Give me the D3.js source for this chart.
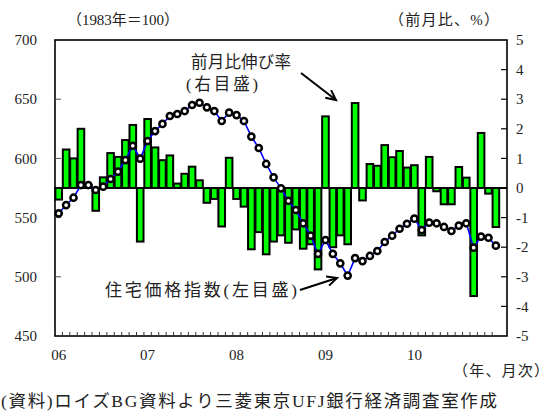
<!DOCTYPE html>
<html><head><meta charset="utf-8">
<script src="https://cdn.jsdelivr.net/npm/d3@7"></script>
<style>body{margin:0;background:#fff} svg{display:block}</style>
</head><body><svg id="c" width="551" height="412"></svg>
<script>
// Year labels and the monthly categories (Jan 2006 – Dec 2010)
const yearLabels = ["06", "07", "08", "09", "10"];
const months = yearLabels.flatMap(y => d3.range(1, 13).map(m => `20${y}-${String(m).padStart(2, "0")}`));

// Month-on-month change, % (right scale, bars)
const momChange = [
  -0.39, 1.30, 1.00, 2.00, 0.10, -0.77, 0.36, 1.18, 1.05, 1.62, 2.13, -1.81,
  2.33, 1.37, 0.94, 1.10, 0.15, 0.48, 0.72, 0.26, -0.50, -0.37, -1.30, 1.02,
  -0.37, -0.63, -2.07, -1.49, -2.24, -1.81, -1.60, -1.85, -1.40, -2.05, -1.90, -2.75,
  2.42, -2.00, -1.60, -1.90, 2.87, -0.42, 0.81, 0.75, 1.45, 1.04, 1.25, 0.69,
  0.77, -1.60, 1.05, -0.11, -0.55, -0.55, 0.71, 0.35, -3.65, 1.86, -0.19, -1.32
];

// House price index, 1983 = 100 (left scale, line)
const priceIndex = [
  553.6, 560.6, 566.8, 577.5, 577.5, 573.3, 576.1, 582.6, 588.8, 598.6, 610.7, 599.8,
  614.7, 623.1, 629.1, 635.8, 637.5, 640.0, 645.1, 647.0, 643.1, 640.0, 631.6, 638.6,
  636.6, 631.6, 618.4, 608.8, 595.3, 584.0, 574.7, 564.2, 556.4, 545.2, 534.7, 519.3,
  531.1, 519.3, 511.4, 501.0, 515.8, 513.3, 517.6, 521.8, 529.4, 534.7, 540.6, 544.8,
  549.1, 539.5, 545.7, 545.2, 542.1, 538.7, 543.2, 545.2, 524.6, 533.9, 533.0, 526.3
];

const leftTicks = [700, 650, 600, 550, 500, 450];
const rightTicks = [5, 4, 3, 2, 1, 0, -1, -2, -3, -4, -5];

const FONT = "'Liberation Serif', 'Noto Sans CJK JP', serif";
const TXT = "#222";

const L = 55, R = 507, T = 40, B = 336;
const svg = d3.select("#c");

const x = d3.scaleBand().domain(months).range([L, L + (R - L) * 60 / 61]).padding(0);
const step = x.step();
const yL = d3.scaleLinear().domain([450, 700]).range([B, T]);
const yR = d3.scaleLinear().domain([-5, 5]).range([B, T]);

const data = months.map((m, i) => ({ m, chg: momChange[i], idx: priceIndex[i] }));

// Bars: month-on-month change
svg.append("g").selectAll("rect").data(data).join("rect")
  .attr("x", d => x(d.m) + 0.4)
  .attr("width", step - 0.8)
  .attr("y", d => yR(Math.max(0, d.chg)))
  .attr("height", d => Math.abs(yR(d.chg) - yR(0)))
  .attr("fill", "#00ff00")
  .attr("stroke", "#000")
  .attr("stroke-width", 2);

// Zero line
svg.append("line")
  .attr("x1", L).attr("x2", R).attr("y1", yR(0)).attr("y2", yR(0))
  .attr("stroke", "#000").attr("stroke-width", 1.8);

// Frame
svg.append("rect").attr("x", L).attr("y", T).attr("width", R - L).attr("height", B - T)
  .attr("fill", "none").attr("stroke", "#000").attr("stroke-width", 1.6);

// Left inner ticks
svg.append("g").selectAll("line").data(leftTicks.filter(v => v > 450 && v < 700)).join("line")
  .attr("x1", L).attr("x2", L + 6).attr("y1", d => yL(d)).attr("y2", d => yL(d))
  .attr("stroke", "#555").attr("stroke-width", 1);

// Right inner ticks
svg.append("g").selectAll("line").data(rightTicks.filter(v => v > -5 && v < 5)).join("line")
  .attr("x1", R - 6).attr("x2", R).attr("y1", d => yR(d)).attr("y2", d => yR(d))
  .attr("stroke", "#000").attr("stroke-width", 1.2);

// Bottom month ticks
svg.append("g").selectAll("line").data(months.slice(1)).join("line")
  .attr("x1", d => x(d)).attr("x2", d => x(d)).attr("y1", B).attr("y2", B - 4)
  .attr("stroke", "#333").attr("stroke-width", 1);

// Index line
svg.append("path").datum(data)
  .attr("d", d3.line().x(d => x(d.m) + step / 2).y(d => yL(d.idx)))
  .attr("fill", "none").attr("stroke", "#0000ff").attr("stroke-width", 1.6);

svg.append("g").selectAll("circle").data(data).join("circle")
  .attr("cx", d => x(d.m) + step / 2).attr("cy", d => yL(d.idx)).attr("r", 3.1)
  .attr("fill", "#fff").attr("stroke", "#000").attr("stroke-width", 2.5);

// Axis labels
svg.append("g").selectAll("text").data(leftTicks).join("text")
  .attr("x", 37).attr("y", d => yL(d)).attr("dy", "0.35em").attr("text-anchor", "end")
  .attr("font-family", FONT).attr("font-size", 15).attr("fill", TXT).text(d => d);

svg.append("g").selectAll("text").data(rightTicks).join("text")
  .attr("x", 516).attr("y", d => yR(d)).attr("dy", "0.35em").attr("text-anchor", "start")
  .attr("font-family", FONT).attr("font-size", 15).attr("fill", TXT).text(d => d);

svg.append("g").selectAll("text").data(yearLabels).join("text")
  .attr("x", (d, i) => x(months[i * 12]) + step / 2).attr("y", 355).attr("dy", "0.35em")
  .attr("text-anchor", "middle").attr("font-family", FONT).attr("font-size", 15)
  .attr("fill", TXT).text(d => d);

function label(txt, cx, cy, size, len) {
  const t = svg.append("text").attr("x", cx).attr("y", cy).attr("dy", "0.35em")
    .attr("text-anchor", "middle").attr("font-family", FONT).attr("font-size", size)
    .attr("fill", TXT).text(txt);
  if (len) t.attr("textLength", len).attr("lengthAdjust", "spacing");
  return t;
}

label("（1983年＝100）", 123, 20, 15, 112);
label("（前月比、%）", 444, 20, 15, 110);
label("（年、月次）", 501, 371, 15, 96);
label("前月比伸び率", 241, 62, 16.5, 100);
label("(右目盛)", 222, 84, 16.5, 72);
label("住宅価格指数(左目盛)", 201, 290, 17, 192);
label("(資料)ロイズBG資料より三菱東京UFJ銀行経済調査室作成", 249, 401, 17.5, 496);

// Annotation arrows
function arrow(x1, y1, x2, y2) {
  svg.append("line").attr("x1", x1).attr("y1", y1).attr("x2", x2).attr("y2", y2)
    .attr("stroke", "#000").attr("stroke-width", 2);
  const a = Math.atan2(y2 - y1, x2 - x1), h = 11, w = 0.45;
  const p = [[x2 - h * Math.cos(a - w), y2 - h * Math.sin(a - w)], [x2, y2],
             [x2 - h * Math.cos(a + w), y2 - h * Math.sin(a + w)]];
  svg.append("path").attr("d", d3.line()(p)).attr("fill", "none")
    .attr("stroke", "#000").attr("stroke-width", 2);
}
arrow(301, 73, 336, 100);
arrow(300, 290, 337, 278);
</script></body></html>
